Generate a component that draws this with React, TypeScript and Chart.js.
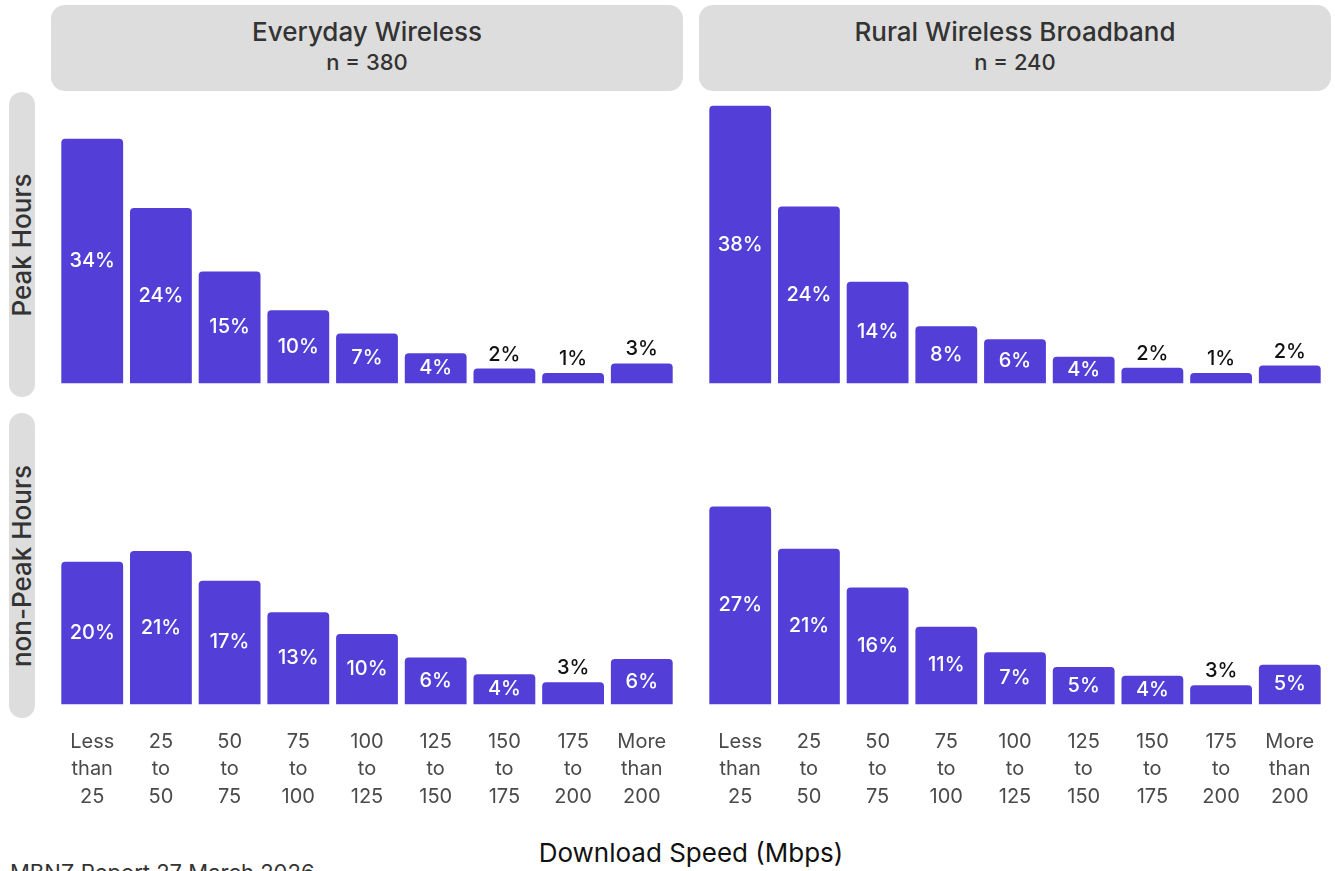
import React, { useEffect, useRef } from "react";
import { Chart, registerables } from "chart.js";

Chart.register(...registerables);

const categories: string[][] = [
  ["Less", "than", "25"],
  ["25", "to", "50"],
  ["50", "to", "75"],
  ["75", "to", "100"],
  ["100", "to", "125"],
  ["125", "to", "150"],
  ["150", "to", "175"],
  ["175", "to", "200"],
  ["More", "than", "200"],
];

const columnTitles = ["Everyday Wireless", "Rural Wireless Broadband"];
const columnN = ["n = 380", "n = 240"];
const rowTitles = ["Peak Hours", "non-Peak Hours"];

const everydayPeak = [33.5, 24.0, 15.3, 10.0, 6.8, 4.1, 2.0, 1.4, 2.7];
const ruralPeak = [38.0, 24.2, 13.9, 7.8, 6.0, 3.6, 2.1, 1.4, 2.4];
const everydayOffPeak = [19.5, 21.0, 16.9, 12.6, 9.6, 6.4, 4.1, 3.0, 6.2];
const ruralOffPeak = [27.1, 21.3, 16.0, 10.6, 7.1, 5.1, 3.9, 2.6, 5.4];

const xTitle = "Download Speed (Mbps)";
const caption = "MBNZ Report 27 March 2026";

const BAR = "#533FD7";
const STRIP = "#DDDDDD";
const FONT = "Inter, 'Noto Sans', sans-serif";

const ALL_MAX = Math.max(...everydayPeak, ...ruralPeak, ...everydayOffPeak, ...ruralOffPeak);

const COL_LEFT = [51, 699];
const COL_W = 632;
const ROW_TOP = [92, 413];
const ROW_H = 305;
const TICK_AREA = 110;

const labelPlugin = {
  id: "barLabels",
  afterDatasetsDraw(chart: any) {
    const ctx = chart.ctx;
    const meta = chart.getDatasetMeta(0);
    const data = chart.data.datasets[0].data as number[];
    ctx.save();
    ctx.font = `500 20px ${FONT}`;
    ctx.textAlign = "center";
    ctx.textBaseline = "middle";
    meta.data.forEach((el: any, i: number) => {
      const v = data[i];
      const r = Math.round(v);
      const txt = r + "%";
      if (r <= 3) {
        ctx.fillStyle = "#111111";
        ctx.fillText(txt, el.x, el.y - 14);
      } else {
        ctx.fillStyle = "#FFFFFF";
        ctx.fillText(txt, el.x, (el.y + el.base) / 2);
      }
    });
    ctx.restore();
  },
};

function Panel({ values, showX, left, top }: { values: number[]; showX: boolean; left: number; top: number }) {
  const ref = useRef<HTMLCanvasElement | null>(null);
  useEffect(() => {
    if (!ref.current) return;
    const pitch = COL_W / 9.2;
    const pad = pitch * 0.1;
    const chart = new Chart(ref.current, {
      type: "bar",
      data: {
        labels: categories,
        datasets: [
          {
            data: values,
            backgroundColor: BAR,
            borderRadius: { topLeft: 4, topRight: 4, bottomLeft: 0, bottomRight: 0 },
            borderSkipped: "start",
            categoryPercentage: 1,
            barPercentage: 0.9,
          },
        ],
      },
      options: {
        animation: false,
        responsive: false,
        maintainAspectRatio: false,
        layout: { padding: { left: pad, right: pad, top: 0, bottom: 0 } },
        plugins: { legend: { display: false }, tooltip: { enabled: false } },
        scales: {
          x: {
            display: showX,
            offset: true,
            grid: { display: false, drawTicks: false },
            border: { display: false },
            ticks: {
              color: "#4A4A4A",
              padding: 10,
              maxRotation: 0,
              autoSkip: false,
              font: { family: FONT, size: 20, weight: 400, lineHeight: 1.375 },
            },
            afterFit: (scale: any) => {
              scale.height = showX ? TICK_AREA : 0;
            },
          },
          y: {
            display: false,
            min: -0.05 * ALL_MAX,
            max: 1.05 * ALL_MAX,
          },
        },
      },
      plugins: [labelPlugin],
    });
    return () => chart.destroy();
  }, [values, showX]);
  const h = ROW_H + (showX ? TICK_AREA : 0);
  return (
    <canvas
      ref={ref}
      width={COL_W}
      height={h}
      style={{ position: "absolute", left, top, width: COL_W, height: h }}
    />
  );
}

export default function App() {
  const panels = [
    [everydayPeak, ruralPeak],
    [everydayOffPeak, ruralOffPeak],
  ];
  return (
    <div
      style={{
        position: "fixed",
        left: 0,
        top: 0,
        width: 1335,
        height: 871,
        overflow: "hidden",
        background: "#FFFFFF",
        fontFamily: FONT,
      }}
    >
      {columnTitles.map((t, c) => (
        <div
          key={"col" + c}
          style={{
            position: "absolute",
            left: COL_LEFT[c],
            top: 5,
            width: COL_W,
            height: 86,
            background: STRIP,
            borderRadius: 14,
            textAlign: "center",
            color: "#333333",
          }}
        >
          <div style={{ position: "absolute", left: 0, right: 0, top: 12, fontSize: 26, fontWeight: 500, lineHeight: "30px" }}>{t}</div>
          <div style={{ position: "absolute", left: 0, right: 0, top: 44, fontSize: 22, fontWeight: 500, lineHeight: "26px" }}>{columnN[c]}</div>
        </div>
      ))}
      {rowTitles.map((t, r) => (
        <div
          key={"row" + r}
          style={{
            position: "absolute",
            left: 9,
            top: ROW_TOP[r],
            width: 26,
            height: ROW_H,
            background: STRIP,
            borderRadius: 13,
          }}
        >
          <div
            style={{
              position: "absolute",
              left: 13,
              top: ROW_H / 2,
              transform: "translate(-50%, -50%) rotate(-90deg)",
              whiteSpace: "nowrap",
              fontSize: 26,
              fontWeight: 500,
              color: "#333333",
              lineHeight: "26px",
            }}
          >
            {t}
          </div>
        </div>
      ))}
      {panels.map((row, r) =>
        row.map((vals, c) => (
          <Panel key={`p${r}${c}`} values={vals} showX={r === 1} left={COL_LEFT[c]} top={ROW_TOP[r]} />
        ))
      )}
      <div
        style={{
          position: "absolute",
          left: 0,
          width: 1382,
          top: 838,
          textAlign: "center",
          fontSize: 26,
          color: "#111111",
          lineHeight: "30px",
        }}
      >
        {xTitle}
      </div>
      <div
        style={{
          position: "absolute",
          left: 10,
          top: 859,
          fontSize: 22,
          color: "#333333",
          lineHeight: "26px",
          whiteSpace: "nowrap",
        }}
      >
        {caption}
      </div>
    </div>
  );
}
